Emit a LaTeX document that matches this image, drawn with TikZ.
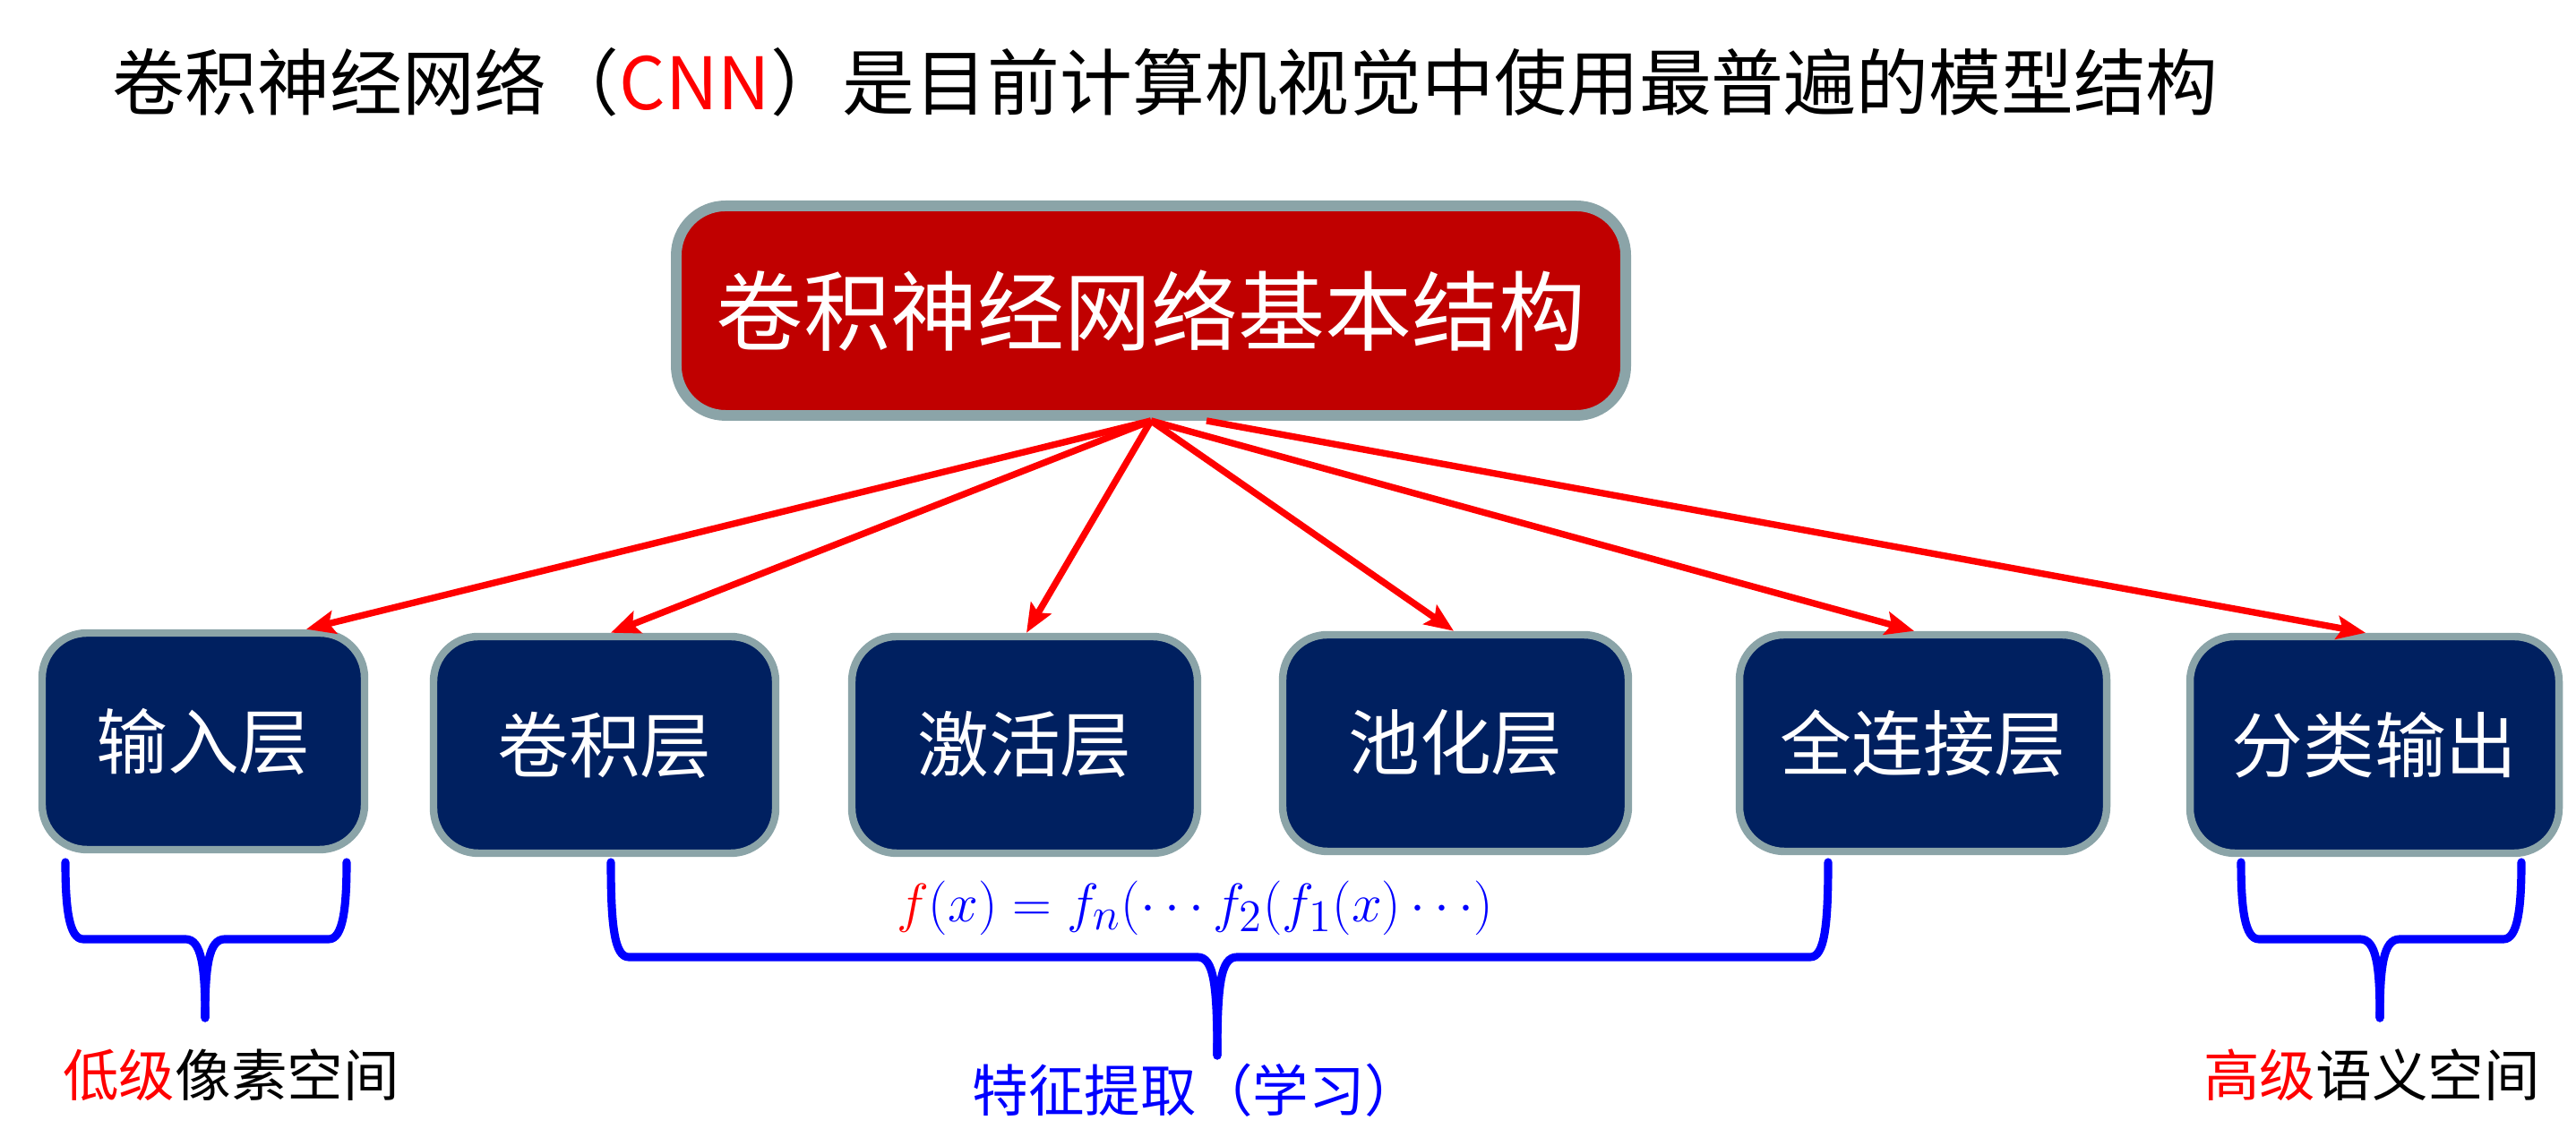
\documentclass[tikz,border=0pt]{standalone}
\usepackage{xcolor}
\usepackage{fontspec}
\setmainfont{Noto Sans CJK SC}
\usepackage{tikz}
\usetikzlibrary{arrows.meta, calc}

\definecolor{cnnred}{RGB}{192,0,0}
\definecolor{cnnnavy}{RGB}{0,32,96}
\definecolor{cnngray}{RGB}{139,164,168}

%% brace opening upwards: left, right, centre x, top y, bar y, tip y
\newcommand{\layerbrace}[6]{%
  \draw[brc] (#1,#4) .. controls (#1,#5+0.35) and (#1+0.04,#5) .. (#1+0.2,#5)
    -- (#3-0.22,#5) .. controls (#3-0.04,#5) and (#3,#5-0.3) .. (#3,#6);
  \draw[brc] (#2,#4) .. controls (#2,#5+0.35) and (#2-0.04,#5) .. (#2-0.2,#5)
    -- (#3+0.22,#5) .. controls (#3+0.04,#5) and (#3,#5-0.3) .. (#3,#6);
}

\begin{document}
\begin{tikzpicture}[
  head/.style={rectangle, draw=cnngray, line width=3.4pt, rounded corners=0.55cm,
               fill=cnnred, text=white, minimum width=10.6cm, minimum height=2.34cm,
               align=center, font=\fontsize{27.6pt}{32pt}\selectfont},
  layer/.style={rectangle, draw=cnngray, line width=2.4pt, rounded corners=0.5cm,
                fill=cnnnavy, text=white, minimum height=2.42cm,
                align=center, font=\fontsize{22.7pt}{27pt}\selectfont},
  note/.style={font=\fontsize{17.8pt}{21pt}\selectfont},
  brc/.style={blue, line width=2.6pt, line cap=round},
  arr/.style={-{Stealth[length=0.32cm, width=0.26cm, inset=0.06cm]}, red, line width=2.1pt}
]
\useasboundingbox (0,0) rectangle (28.76,12.8);

%% ---- Title ----
\node[anchor=west, inner sep=0pt, font=\fontsize{23pt}{27pt}\selectfont] (title) at (1.25,11.88)
  {卷积神经网络（\textcolor{red}{CNN}）是目前计算机视觉中使用最普遍的模型结构};

%% ---- Top box ----
\node[head] (cnn) at (12.85,9.33) {卷积神经网络基本结构};
\coordinate (cnnfar) at ([xshift=0.62cm]cnn.south);

%% ---- Layers ----
\node[layer, minimum width=3.6cm]  (inp)  at (2.27,4.52)  {输入层};
\node[layer, minimum width=3.82cm] (conv) at (6.75,4.48)  {卷积层};
\node[layer, minimum width=3.86cm] (act)  at (11.44,4.48) {激活层};
\node[layer, minimum width=3.86cm] (pool) at (16.25,4.5)  {池化层};
\node[layer, minimum width=4.1cm]  (fc)   at (21.47,4.5)  {全连接层};
\node[layer, minimum width=4.12cm] (out)  at (26.51,4.48) {分类输出};

%% ---- Arrows: top box -> layers ----
\draw[arr] (cnn.south) -- ([xshift=1.15cm]inp.north);
\draw[arr] (cnn.south) -- ([xshift=0.07cm]conv.north);
\draw[arr] (cnn.south) -- ([xshift=0.02cm]act.north);
\draw[arr] (cnn.south) -- ([xshift=-0.02cm]pool.north);
\draw[arr] (cnn.south) -- ([xshift=-0.1cm]fc.north);
\draw[arr] (cnnfar)    -- ([xshift=-0.1cm]out.north);

%% ---- Braces ----
\layerbrace{0.73}{3.87}{2.29}{3.17}{2.31}{1.43}
\layerbrace{6.82}{20.41}{13.59}{3.17}{2.11}{1.01}
\layerbrace{25.02}{28.15}{26.57}{3.17}{2.31}{1.43}

%% ---- Labels ----
\node[font=\fontsize{19pt}{22pt}\selectfont, text=blue] (fx) at (13.34,2.66)
  {$\textcolor{red}{f}(x)=f_n(\cdots f_2(f_1(x)\cdots)$};
\node[note] (low)  at (2.58,0.79)  {\textcolor{red}{低级}像素空间};
\node[note, text=blue] (feat) at (13.36,0.62) {特征提取（学习）};
\node[note] (high) at (26.48,0.79) {\textcolor{red}{高级}语义空间};

\end{tikzpicture}
\end{document}
